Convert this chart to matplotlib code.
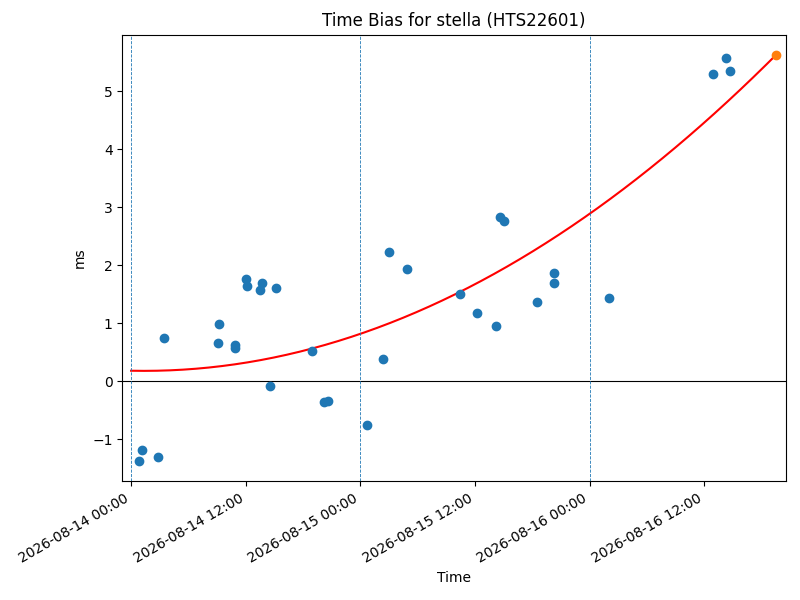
import numpy as np
import pandas as pd
import matplotlib
matplotlib.use("Agg")
import matplotlib.pyplot as plt
import matplotlib.dates as mdates

START = pd.Timestamp("2026-08-14 00:00")

# hours since START, bias in ms
hours = [0.88, 1.15, 2.83, 3.46, 9.09, 9.19, 10.87, 10.90, 12.02, 12.16,
         13.52, 13.73, 14.57, 15.20, 18.94, 20.2, 20.6, 24.73, 26.41, 27.0,
         28.89, 34.45, 36.26, 38.15, 38.67, 39.09, 42.52, 44.23, 44.23, 50.07,
         60.97, 62.33, 62.67]
bias_ms = [-1.37, -1.19, -1.30, 0.75, 0.67, 0.99, 0.62, 0.58, 1.77, 1.65,
           1.58, 1.70, -0.08, 1.61, 0.53, -0.36, -0.34, -0.75, 0.38, 2.23,
           1.94, 1.50, 1.18, 0.95, 2.84, 2.76, 1.36, 1.87, 1.69, 1.43,
           5.29, 5.58, 5.35]

now_hours = 67.5
day_lines = [0, 24, 48]


def to_time(h):
    return START + pd.to_timedelta(np.asarray(h, dtype=float), unit="h")


def main(out_path):
    h = np.array(hours)
    b = np.array(bias_ms)
    # quadratic trend through the measurements, run up to "now"
    coef = np.polyfit(h, b, 2)
    fit_h = np.linspace(0, now_hours, 200)
    fit_b = np.polyval(coef, fit_h)

    fig, ax = plt.subplots(figsize=(8, 6), dpi=100)

    ax.scatter(to_time(h), b, color="C0", zorder=3)
    ax.plot(to_time(fit_h), fit_b, color="red", zorder=2)
    ax.scatter(to_time([now_hours]), [fit_b[-1]], color="C1", zorder=4)
    ax.axhline(0, color="black", linewidth=0.8)
    for d in day_lines:
        ax.axvline(to_time([d])[0], color="C0", linestyle="--", linewidth=0.6)

    ax.set_xlim(to_time([-0.91])[0], to_time([68.52])[0])
    ax.xaxis.set_major_locator(mdates.HourLocator(byhour=[0, 12]))
    ax.xaxis.set_major_formatter(mdates.DateFormatter("%Y-%m-%d %H:%M"))
    fig.autofmt_xdate()
    fig.subplots_adjust(left=0.153, right=0.982, top=0.942, bottom=0.198)

    ax.set_title("Time Bias for stella (HTS22601)")
    ax.set_xlabel("Time")
    ax.set_ylabel("ms")
    fig.savefig(out_path, dpi=100)


if __name__ == "__main__":
    main("out.png")
